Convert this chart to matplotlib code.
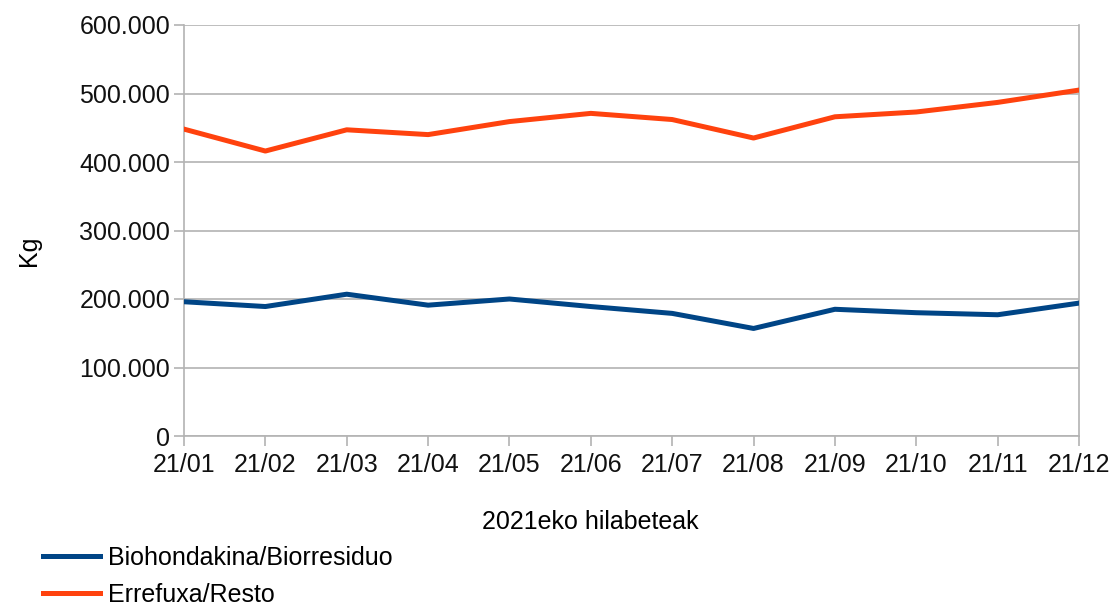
import matplotlib.pyplot as plt
from matplotlib.ticker import FuncFormatter
from matplotlib.lines import Line2D

# ------------------------
# Data
# ------------------------
months = ['21/01', '21/02', '21/03', '21/04', '21/05', '21/06',
          '21/07', '21/08', '21/09', '21/10', '21/11', '21/12']
biorresiduo = [196000, 189000, 207000, 191000, 200000, 189000,
               179000, 157000, 185000, 180000, 177000, 194000]
resto = [448000, 416000, 447000, 440000, 459000, 471000,
         462000, 435000, 466000, 473000, 487000, 505000]

blue = '#004586'
orange = '#ff420e'
grid_grey = '#b3b3b3'
fs = 18

plt.rcParams['font.family'] = ['Liberation Sans', 'DejaVu Sans']

fig = plt.figure(figsize=(11.18, 6.05), dpi=100)
ax = fig.add_axes([184 / 1118, 1 - 436 / 605, (1079 - 184) / 1118, (436 - 25) / 605])

x = list(range(len(months)))
ax.plot(x, biorresiduo, color=blue, linewidth=3.6, solid_joinstyle='round', zorder=3)
ax.plot(x, resto, color=orange, linewidth=3.6, solid_joinstyle='round', zorder=3)

ax.set_xlim(0, len(months) - 1)
ax.set_ylim(0, 600000)
ax.set_yticks(range(0, 600001, 100000))
ax.yaxis.set_major_formatter(FuncFormatter(
    lambda v, p: '0' if v == 0 else f'{int(v):,}'.replace(',', '.')))
ax.set_xticks(x)
ax.set_xticklabels(months)

ax.grid(axis='y', color=grid_grey, linewidth=1.2, zorder=0)
ax.set_axisbelow(True)
for s in ['left', 'bottom', 'right']:
    ax.spines[s].set_color(grid_grey)
    ax.spines[s].set_linewidth(1.2)
ax.spines['top'].set_visible(False)

ax.tick_params(axis='both', colors=grid_grey, labelcolor='#111111', labelsize=fs,
               length=7, width=1.2)
ax.tick_params(axis='y', pad=3)
ax.tick_params(axis='x', pad=5)

ax.set_ylabel('Kg', fontsize=fs)
ax.yaxis.set_label_coords(-0.16, 0.45)
fig.text(590 / 1118, 1 - 522 / 605, '2021eko hilabeteak', ha='center', va='center', fontsize=fs)

handles = [Line2D([], [], color=blue, linewidth=3.6),
           Line2D([], [], color=orange, linewidth=3.6)]
fig.legend(handles, ['Biohondakina/Biorresiduo', 'Errefuxa/Resto'],
           loc='lower left', bbox_to_anchor=(20 / 1118, -0.04), frameon=False,
           fontsize=fs, handlelength=2.3, handletextpad=0.32, labelspacing=0.5)

fig.savefig('out.png', dpi=100, facecolor='white')
